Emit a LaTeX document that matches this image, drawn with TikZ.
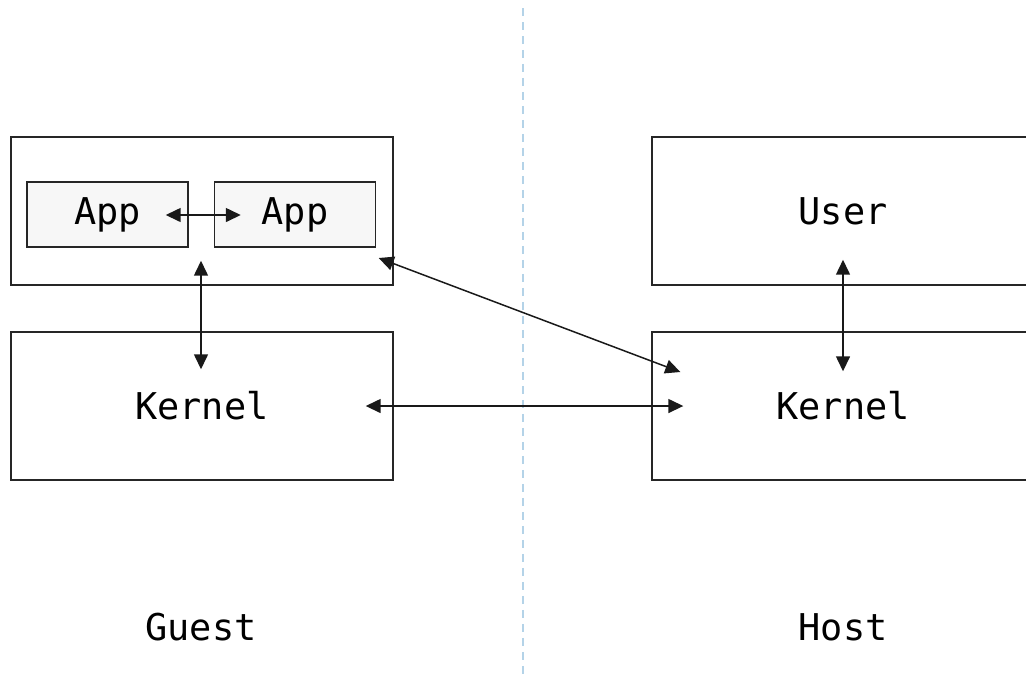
\documentclass[tikz,border=0pt]{standalone}
\usepackage{fontspec}
\setmonofont{DejaVu Sans Mono}
\usetikzlibrary{arrows.meta,calc}
\definecolor{sepblue}{HTML}{B4D3E8}
\definecolor{appgray}{HTML}{F7F7F7}

\begin{document}
\begin{tikzpicture}[x=0.02cm,y=-0.02cm,
		layer/.style={draw=black!85,line width=0.85pt,minimum width=7.64cm,minimum height=2.96cm,inner sep=0pt},
		appbox/.style={draw=black!85,fill=appgray,line width=0.85pt,minimum width=3.22cm,minimum height=1.3cm,inner sep=0pt},
		link/.style={{Triangle[length=0.3cm,width=0.28cm]}-{Triangle[length=0.3cm,width=0.28cm]},line width=0.85pt,black!90},
		font=\ttfamily\fontsize{21}{25}\selectfont]
			\clip (0,0) rectangle (1026,674);
			\draw[sepblue,line width=1.2pt,dash pattern=on 0.16cm off 0.12cm] (523,8) -- (523,674);
			% guest side
			\node[layer] (gu) at (202,211) {};
			\node[appbox] (app1) at (107.5,214.5) {App};
			\node[appbox] (app2) at (295,214.5) {App};
			\node[layer] (gk) at (202,406) {Kernel};
			\node (guest) at (201,627) {Guest};
			% host side
			\node[layer] (hu) at (843,211) {User};
			\node[layer] (hk) at (843,406) {Kernel};
			\node (host) at (843,627) {Host};
			\path[link]
			($(app1.east)+(-23,0.5)$) edge ($(app2.west)+(27,0.5)$)
			($(gu.south)+(-1,-25)$) edge ($(gk.north)+(-1,38)$)
			($(gu.east)+(-15,47)$) edge ($(hk.west)+(29,-34)$)
			($(gk.east)+(-28,0)$) edge ($(hk.west)+(32,0)$)
			($(hu.south)+(0,-26)$) edge ($(hk.north)+(0,40)$)
			;
		\end{tikzpicture}
\end{document}
